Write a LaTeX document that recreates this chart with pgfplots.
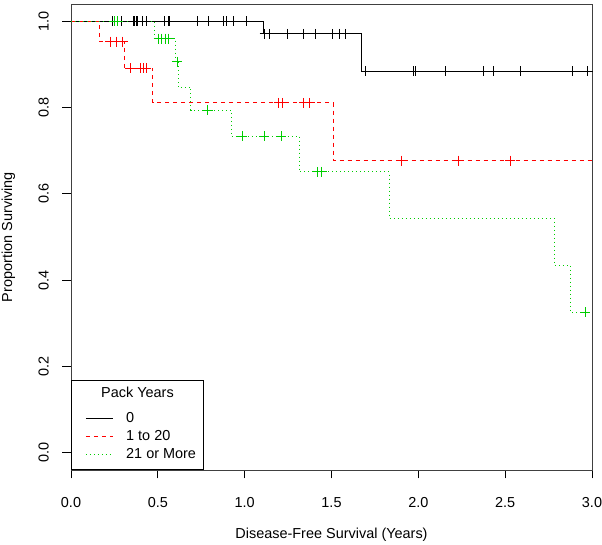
\documentclass[border=0pt]{standalone}
\usepackage{fontspec}
\setmainfont{Liberation Sans}
\usepackage{pgfplots}
\pgfplotsset{compat=1.18}
\definecolor{rgreen}{HTML}{00CD00}
\newcommand{\fs}{\fontsize{14.5}{17}\selectfont}
\begin{document}
\begin{tikzpicture}
\path[use as bounding box] (-71bp,-75bp) rectangle (531bp,470bp);
\begin{axis}[
  scale only axis, width=521bp, height=466bp,
  xmin=0, xmax=3, ymin=-0.04, ymax=1.04,
  xtick={0,0.5,1,1.5,2,2.5,3},
  xticklabels={0.0,0.5,1.0,1.5,2.0,2.5,3.0},
  ytick={0,0.2,0.4,0.6,0.8,1},
  yticklabels={0.0,0.2,0.4,0.6,0.8,1.0},
  tick pos=left, tick align=outside, major tick length=8.5bp,
  tick style={black, line width=0.8bp},
  axis line style={line width=0.8bp, black!75},
  ticklabel style={font=\fs},
  xticklabel style={anchor=north, inner sep=0pt, yshift=-19bp},
  yticklabel style={rotate=90, anchor=south, inner sep=0pt, yshift=13.5bp},
  xlabel={Disease-Free Survival (Years)},
  ylabel={Proportion Surviving},
  label style={font=\fs},
  xlabel style={at={(axis description cs:0.5,-0.1395)}, anchor=center},
  ylabel style={at={(axis description cs:-0.12,0.5)}, anchor=center},
  clip=false,
  legend style={at={(axis description cs:0,0)}, anchor=south west, draw=black, line width=0.8bp,
    fill=white, font=\fs, inner xsep=7.3bp, inner ysep=8bp, row sep=4.3bp, column sep=13bp,
    nodes={inner sep=0pt, text height=11bp, text depth=3bp}},
  legend cell align=left,
  legend image code/.code={\path (0bp,0bp); \draw[#1] (6.7bp,0bp) -- (33.7bp,0bp);},
]
\addlegendimage{empty legend}
\addlegendentry[text height=9bp, text depth=9.4bp]{\hspace*{-25bp}Pack Years}

% 0 pack years
\addplot[black, line width=0.8bp, const plot] coordinates {
 (0,1) (1.106,0.971) (1.670,0.884) (3.0,0.884)};
\addlegendentry{0}
% 1 to 20
\addplot[red, line width=0.8bp, const plot, dash pattern=on 4bp off 4bp] coordinates {
 (0,1) (0.163,0.953) (0.308,0.891) (0.471,0.811) (1.512,0.677) (3.0,0.677)};
\addlegendentry{1 to 20}
% 21 or more
\addplot[rgreen, line width=0.8bp, const plot, dash pattern=on 1bp off 3bp] coordinates {
 (0,1) (0.480,0.960) (0.603,0.906) (0.617,0.847) (0.690,0.794) (0.923,0.733)
 (1.317,0.651) (1.835,0.543) (2.783,0.434) (2.875,0.326) (3.0,0.326)};
\addlegendentry{21 or More}

% censor marks
\addplot[forget plot, only marks, mark=+, mark size=5bp, black, line width=0.8bp] coordinates {
 (0.236,1) (0.291,1) (0.359,1) (0.367,1) (0.375,1) (0.385,1) (0.414,1) (0.433,1)
 (0.537,1) (0.561,1) (0.568,1) (0.725,1) (0.792,1) (0.875,1) (0.893,1) (0.937,1) (1.010,1)
 (1.115,0.971) (1.142,0.971) (1.244,0.971) (1.340,0.971) (1.408,0.971) (1.506,0.971) (1.546,0.971) (1.578,0.971)
 (1.698,0.884) (1.972,0.884) (1.981,0.884) (2.154,0.884) (2.376,0.884) (2.431,0.884) (2.585,0.884) (2.887,0.884) (2.976,0.884)};
\addplot[forget plot, only marks, mark=+, mark size=5bp, red, line width=0.8bp] coordinates {
 (0.225,0.953) (0.262,0.953) (0.298,0.953)
 (0.340,0.891) (0.400,0.891) (0.418,0.891) (0.434,0.891)
 (1.196,0.811) (1.216,0.811) (1.341,0.811) (1.375,0.811)
 (1.902,0.677) (2.229,0.677) (2.529,0.677)};
\addplot[forget plot, only marks, mark=+, mark size=5bp, rgreen, line width=0.8bp] coordinates {
 (0.250,1) (0.270,1)
 (0.504,0.960) (0.523,0.960) (0.542,0.960) (0.562,0.960)
 (0.610,0.906) (0.788,0.794)
 (0.985,0.733) (1.114,0.733) (1.212,0.733)
 (1.418,0.651) (1.443,0.651) (2.962,0.326)};
\end{axis}
\end{tikzpicture}
\end{document}
